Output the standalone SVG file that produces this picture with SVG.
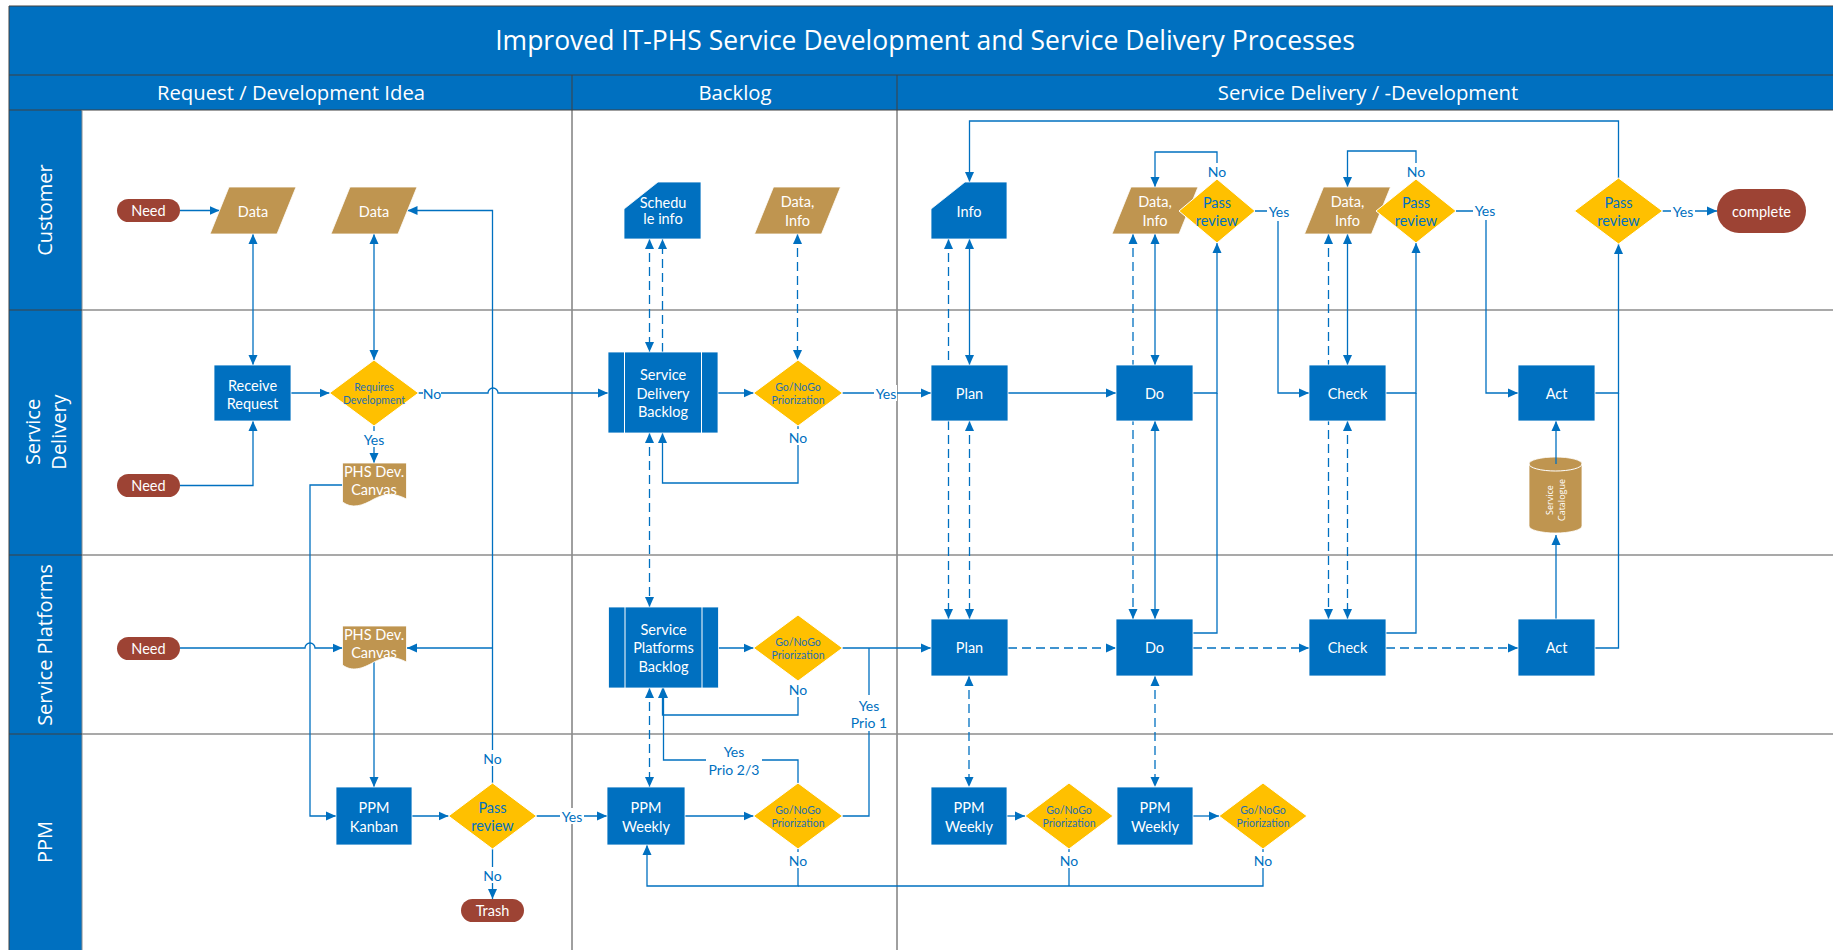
<svg xmlns="http://www.w3.org/2000/svg" width="1833" height="950" viewBox="0 0 1833 950">
<style>
.hd{font-family:"Open Sans","Liberation Sans",sans-serif;fill:#fff;text-anchor:middle;dominant-baseline:central}
.t{font-family:Lato,"Liberation Sans",sans-serif;fill:#fff;font-size:14.5px;text-anchor:middle;dominant-baseline:central}
.ts{font-size:10.5px}
.tq{fill:#0070C0}
.tg{fill:#1F6EB0}
.lb{font-family:Lato,"Liberation Sans",sans-serif;fill:#0070C0;font-size:14px;text-anchor:middle;dominant-baseline:central}
.box{fill:#0070C0;stroke:#fff;stroke-width:0.8}
.doc{fill:#BF9550;stroke:#fff;stroke-width:0.8}
.term{fill:#9D4334}
.dia{fill:#FFC000;stroke:#fff;stroke-width:1}
.inner{stroke:#fff;stroke-width:1}
.c{fill:none;stroke:#0070C0;stroke-width:1.3}
.d{stroke-dasharray:9 5}
.a{marker-end:url(#ah)}
.b{marker-start:url(#ah);marker-end:url(#ah)}
.bg{fill:#fff}
.lane{stroke:#8C8C8C;stroke-width:1.5}
.dark{stroke:#404040;stroke-width:1}
</style>
<defs>
<marker id="ah" markerUnits="userSpaceOnUse" markerWidth="10" markerHeight="10" refX="10" refY="5" orient="auto-start-reverse">
<path d="M0,0.5 L10,5 L0,9.5 z" fill="#0070C0"/>
</marker>
</defs>

<!-- swimlane frame -->
<g id="swimlanes">
<rect x="9" y="6" width="1824" height="944" fill="#fff"/>
<rect x="9" y="6" width="1824" height="104" fill="#0070C0"/>
<rect x="9" y="110" width="73" height="840" fill="#0070C0"/>
<line class="dark" x1="9" y1="75" x2="1833" y2="75"/>
<line class="dark" x1="9" y1="110" x2="1833" y2="110"/>
<line class="dark" x1="9" y1="6" x2="1833" y2="6"/>
<line class="dark" x1="9" y1="6" x2="9" y2="950"/>
<line class="dark" x1="572" y1="75" x2="572" y2="950"/>
<line class="dark" x1="897" y1="75" x2="897" y2="950"/>
<line x1="82" y1="110" x2="82" y2="950" stroke="#8C8C8C" stroke-width="1"/>
<line class="lane" x1="82" y1="310" x2="1833" y2="310"/>
<line class="lane" x1="82" y1="555" x2="1833" y2="555"/>
<line class="lane" x1="82" y1="734" x2="1833" y2="734"/>
<line class="dark" x1="9" y1="310" x2="82" y2="310"/>
<line class="dark" x1="9" y1="555" x2="82" y2="555"/>
<line class="dark" x1="9" y1="734" x2="82" y2="734"/>
<text class="hd" x="925" y="40" font-size="26.5">Improved IT-PHS Service Development and Service Delivery Processes</text>
<text class="hd" x="291" y="92" font-size="20.3">Request / Development Idea</text>
<text class="hd" x="735" y="92" font-size="20.3">Backlog</text>
<text class="hd" x="1368" y="92" font-size="20.3">Service Delivery / -Development</text>
<text class="hd" font-size="20" transform="translate(44,210) rotate(-90)">Customer</text>
<text class="hd" font-size="20" transform="translate(32,432) rotate(-90)">Service</text>
<text class="hd" font-size="20" transform="translate(58,432) rotate(-90)">Delivery</text>
<text class="hd" font-size="20" transform="translate(44,645) rotate(-90)">Service Platforms</text>
<text class="hd" font-size="20" transform="translate(44,842) rotate(-90)">PPM</text>
</g>

<!-- catalogue drawn before the connectors so its outgoing line shows on its top face -->
<g id="service-catalogue">
<path class="doc" d="M1529,464 A26.5,7 0 0 1 1582,464 V526 A26.5,7 0 0 1 1529,526 Z"/>
<path d="M1529,464 A26.5,7 0 0 0 1582,464" fill="none" stroke="#fff" stroke-width="1"/>
<text class="hd" font-size="9" transform="translate(1549,500) rotate(-90)">Service</text>
<text class="hd" font-size="9" transform="translate(1561.5,500) rotate(-90)">Catalogue</text>
</g>

<g id="connectors">
<!-- request / development idea -->
<path class="c a" d="M180,210.5 H219.5"/>
<path class="c b" d="M253,234 V365"/>
<path class="c b" d="M374,234 V360"/>
<path class="c a" d="M291,393 H329.5"/>
<path class="c a" d="M418.5,393 H488 A5,5 0 0 1 498,393 H608"/>
<path class="c a" d="M374,426 V463"/>
<path class="c a" d="M180,485.5 H253 V421"/>
<path class="c a" d="M342.5,485 H310 V816 H336"/>
<path class="c a" d="M180,648 H305 A5,5 0 0 1 315,648 H342.5"/>
<path class="c a" d="M374,662 V787"/>
<path class="c a" d="M412,816 H448.5"/>
<path class="c a" d="M492.5,783 V210.5 H407.5"/>
<path class="c a" d="M492.5,648 H407"/>
<path class="c a" d="M492.5,849 V899"/>
<path class="c a" d="M536.5,816 H607"/>
<!-- backlog -->
<path class="c a" d="M685,816 H753.5"/>
<path class="c" d="M842.5,816 H869 V648"/>
<path class="c a" d="M798,783 V760 H663.5 V688"/>
<path class="c a" d="M798,849 V886 H647 V845"/>
<path class="c" d="M1069,849 V886"/>
<path class="c" d="M1263,849 V886 H798"/>
<path class="c a" d="M718,393 H753.5"/>
<path class="c a" d="M842.5,393 H931"/>
<path class="c a" d="M798,426 V483 H662.5 V433"/>
<path class="c d b" d="M649.5,239 V352"/>
<path class="c d a" d="M662.5,352 V239"/>
<path class="c d b" d="M797.5,234 V360"/>
<path class="c d b" d="M649.5,433 V607"/>
<path class="c a" d="M718,648 H753.5"/>
<path class="c a" d="M798,681 V715 H662.5 V688"/>
<path class="c a" d="M842.5,648 H931"/>
<path class="c d b" d="M649.5,688 V787"/>
<!-- service delivery / development -->
<path class="c a" d="M1008,393 H1116"/>
<path class="c b" d="M969.5,239 V365"/>
<path class="c d b" d="M948.5,239 V619"/>
<path class="c d b" d="M969.5,421 V619"/>
<path class="c b" d="M1155,234 V365"/>
<path class="c d b" d="M1133,234 V619"/>
<path class="c b" d="M1155,421 V619"/>
<path class="c a" d="M1193,393 H1217 V243"/>
<path class="c" d="M1193,633 H1217 V393"/>
<path class="c a" d="M1217,179 V152 H1155 V187"/>
<path class="c a" d="M1255,211 H1278 V393 H1309"/>
<path class="c b" d="M1347.5,234 V365"/>
<path class="c d b" d="M1328.5,234 V619"/>
<path class="c d b" d="M1347.5,421 V619"/>
<path class="c a" d="M1386,393 H1416 V243"/>
<path class="c" d="M1386,633 H1416 V393"/>
<path class="c a" d="M1416,179 V151 H1347.5 V187"/>
<path class="c a" d="M1456,211 H1486 V393 H1518"/>
<path class="c a" d="M1595,393 H1618.5 V244"/>
<path class="c" d="M1595,648 H1618.5 V393"/>
<path class="c a" d="M1618.5,178 V121 H969.5 V182"/>
<path class="c a" d="M1662.5,211 H1717"/>
<path class="c d a" d="M1008,648 H1116"/>
<path class="c d a" d="M1193,648 H1309"/>
<path class="c d a" d="M1386,648 H1518"/>
<path class="c a" d="M1556,619 V535"/>
<path class="c a" d="M1556,464 V421"/>
<path class="c d b" d="M969,676 V787"/>
<path class="c d b" d="M1155,676 V787"/>
<path class="c a" d="M1007,816 H1025"/>
<path class="c a" d="M1193,816 H1219"/>
<!-- connector labels -->
<rect class="bg" x="423" y="385" width="18" height="16"/><text class="lb" x="432" y="393">No</text>
<rect class="bg" x="362" y="431" width="24" height="16"/><text class="lb" x="374" y="439">Yes</text>
<rect class="bg" x="483" y="750" width="19" height="16"/><text class="lb" x="492.5" y="758">No</text>
<rect class="bg" x="483" y="867" width="19" height="16"/><text class="lb" x="492.5" y="875">No</text>
<rect class="bg" x="560" y="808" width="24" height="16"/><text class="lb" x="572" y="816">Yes</text>
<rect class="bg" x="848" y="695" width="42" height="36"/><text class="lb" x="869" y="705">Yes</text><text class="lb" x="869" y="722">Prio 1</text>
<rect class="bg" x="706" y="741" width="56" height="37"/><text class="lb" x="734" y="751">Yes</text><text class="lb" x="734" y="769">Prio 2/3</text>
<rect class="bg" x="789" y="852" width="19" height="16"/><text class="lb" x="798" y="860">No</text>
<rect class="bg" x="1060" y="852" width="19" height="16"/><text class="lb" x="1069" y="860">No</text>
<rect class="bg" x="1254" y="852" width="19" height="16"/><text class="lb" x="1263" y="860">No</text>
<rect class="bg" x="874" y="385" width="23" height="16"/><text class="lb" x="886" y="393">Yes</text>
<rect class="bg" x="789" y="429" width="19" height="16"/><text class="lb" x="798" y="437">No</text>
<rect class="bg" x="789" y="681" width="19" height="16"/><text class="lb" x="798" y="689">No</text>
<rect class="bg" x="1208" y="163" width="19" height="16"/><text class="lb" x="1217" y="171">No</text>
<rect class="bg" x="1407" y="163" width="19" height="16"/><text class="lb" x="1416" y="171">No</text>
<rect class="bg" x="1267" y="203" width="24" height="18"/><text class="lb" x="1279" y="211">Yes</text>
<rect class="bg" x="1473" y="202" width="24" height="18"/><text class="lb" x="1485" y="210">Yes</text>
<rect class="bg" x="1671" y="203" width="24" height="16"/><text class="lb" x="1683" y="211">Yes</text>
</g>

<!-- customer lane -->
<g id="need-customer"><rect class="term" x="117" y="199" width="63" height="23" rx="11.5"/><text class="t" x="148.5" y="210.5">Need</text></g>
<g id="data-request"><polygon class="doc" points="229,187 296,187 277,234 210,234"/><text class="t" x="253" y="211">Data</text></g>
<g id="data-development"><polygon class="doc" points="350,187 417,187 398,234 331,234"/><text class="t" x="374" y="211">Data</text></g>
<g id="schedule-info"><path class="box" d="M624,209 L658,182 H701 V239 H624 Z"/><text class="t" font-size="10" x="663" y="202.5">Schedu</text><text class="t" font-size="10" x="663" y="218">le info</text></g>
<g id="data-info-backlog"><polygon class="doc" points="773.5,187 840.5,187 821.5,234 754.5,234"/><text class="t" x="797.5" y="201">Data,</text><text class="t" x="797.5" y="220">Info</text></g>
<g id="info"><path class="box" d="M931,209 L965,182 H1007 V239 H931 Z"/><text class="t" x="969" y="211">Info</text></g>
<g id="data-info-do"><polygon class="doc" points="1131,187 1198,187 1179,234 1112,234"/><text class="t" x="1155" y="201">Data,</text><text class="t" x="1155" y="220">Info</text></g>
<g id="pass-review-do"><polygon class="dia" points="1217,179 1255,211 1217,243 1179,211"/><text class="t tq" x="1217" y="202">Pass</text><text class="t tq" x="1217" y="220">review</text></g>
<g id="data-info-check"><polygon class="doc" points="1323.5,187 1390.5,187 1371.5,234 1304.5,234"/><text class="t" x="1347.5" y="201">Data,</text><text class="t" x="1347.5" y="220">Info</text></g>
<g id="pass-review-check"><polygon class="dia" points="1416,179 1456,211 1416,243 1376,211"/><text class="t tq" x="1416" y="202">Pass</text><text class="t tq" x="1416" y="220">review</text></g>
<g id="pass-review-act"><polygon class="dia" points="1618.5,178 1662.5,211 1618.5,244 1574.5,211"/><text class="t tq" x="1618.5" y="202">Pass</text><text class="t tq" x="1618.5" y="220">review</text></g>
<g id="complete"><rect class="term" x="1717" y="189" width="89" height="44" rx="22"/><text class="t" x="1761.5" y="211">complete</text></g>

<!-- service delivery lane -->
<g id="receive-request"><rect class="box" x="214" y="365" width="77" height="56"/><text class="t" x="252.5" y="385">Receive</text><text class="t" x="252.5" y="403">Request</text></g>
<g id="requires-development"><polygon class="dia" points="374,360 418.5,393 374,426 329.5,393"/><text class="t ts tg" x="374" y="387">Requires</text><text class="t ts tg" x="374" y="400">Development</text></g>
<g id="canvas-delivery"><path class="doc" d="M342.5,463 H406.5 V499 C393,492 384,494 374,499 C362,506 352,509 342.5,502 Z"/><text class="t" x="374" y="471">PHS Dev.</text><text class="t" x="374" y="489">Canvas</text></g>
<g id="need-delivery"><rect class="term" x="117" y="474" width="63" height="23" rx="11.5"/><text class="t" x="148.5" y="485.5">Need</text></g>
<g id="delivery-backlog"><rect class="box" x="608" y="352" width="110" height="81"/><line class="inner" x1="624.5" y1="352" x2="624.5" y2="433"/><line class="inner" x1="701.5" y1="352" x2="701.5" y2="433"/><text class="t" x="663" y="374">Service</text><text class="t" x="663" y="393">Delivery</text><text class="t" x="663" y="411">Backlog</text></g>
<g id="gonogo-delivery"><polygon class="dia" points="798,360 842.5,393 798,426 753.5,393"/><text class="t ts tg" x="798" y="387">Go/NoGo</text><text class="t ts tg" x="798" y="400">Priorization</text></g>
<g id="plan-delivery"><rect class="box" x="931" y="365" width="77" height="56"/><text class="t" x="969.5" y="393">Plan</text></g>
<g id="do-delivery"><rect class="box" x="1116" y="365" width="77" height="56"/><text class="t" x="1154.5" y="393">Do</text></g>
<g id="check-delivery"><rect class="box" x="1309" y="365" width="77" height="56"/><text class="t" x="1347.5" y="393">Check</text></g>
<g id="act-delivery"><rect class="box" x="1518" y="365" width="77" height="56"/><text class="t" x="1556.5" y="393">Act</text></g>

<!-- service platforms lane -->
<g id="need-platforms"><rect class="term" x="117" y="637" width="63" height="23" rx="11.5"/><text class="t" x="148.5" y="648.5">Need</text></g>
<g id="canvas-platforms"><path class="doc" d="M342.5,626 H406.5 V662 C393,655 384,657 374,662 C362,669 352,672 342.5,665 Z"/><text class="t" x="374" y="634">PHS Dev.</text><text class="t" x="374" y="652">Canvas</text></g>
<g id="platforms-backlog"><rect class="box" x="608.5" y="607" width="110" height="81"/><line class="inner" x1="625" y1="607" x2="625" y2="688"/><line class="inner" x1="702" y1="607" x2="702" y2="688"/><text class="t" x="663.5" y="629">Service</text><text class="t" x="663.5" y="647">Platforms</text><text class="t" x="663.5" y="666">Backlog</text></g>
<g id="gonogo-platforms"><polygon class="dia" points="798,615 842.5,648 798,681 753.5,648"/><text class="t ts tg" x="798" y="642">Go/NoGo</text><text class="t ts tg" x="798" y="655">Priorization</text></g>
<g id="plan-platforms"><rect class="box" x="931" y="619" width="77" height="57"/><text class="t" x="969.5" y="647.5">Plan</text></g>
<g id="do-platforms"><rect class="box" x="1116" y="619" width="77" height="57"/><text class="t" x="1154.5" y="647.5">Do</text></g>
<g id="check-platforms"><rect class="box" x="1309" y="619" width="77" height="57"/><text class="t" x="1347.5" y="647.5">Check</text></g>
<g id="act-platforms"><rect class="box" x="1518" y="619" width="77" height="57"/><text class="t" x="1556.5" y="647.5">Act</text></g>

<!-- PPM lane -->
<g id="ppm-kanban"><rect class="box" x="336" y="787" width="76" height="58"/><text class="t" x="374" y="807">PPM</text><text class="t" x="374" y="826">Kanban</text></g>
<g id="pass-review-ppm"><polygon class="dia" points="492.5,783 536.5,816 492.5,849 448.5,816"/><text class="t tq" x="492.5" y="807">Pass</text><text class="t tq" x="492.5" y="825">review</text></g>
<g id="trash"><rect class="term" x="461" y="899" width="63" height="23" rx="11.5"/><text class="t" x="492.5" y="910.5">Trash</text></g>
<g id="ppm-weekly-backlog"><rect class="box" x="607" y="787" width="78" height="58"/><text class="t" x="646" y="807">PPM</text><text class="t" x="646" y="826">Weekly</text></g>
<g id="gonogo-ppm-backlog"><polygon class="dia" points="798,783 842.5,816 798,849 753.5,816"/><text class="t ts tg" x="798" y="810">Go/NoGo</text><text class="t ts tg" x="798" y="823">Priorization</text></g>
<g id="ppm-weekly-plan"><rect class="box" x="931" y="787" width="76" height="58"/><text class="t" x="969" y="807">PPM</text><text class="t" x="969" y="826">Weekly</text></g>
<g id="gonogo-ppm-plan"><polygon class="dia" points="1069,783 1113,816 1069,849 1025,816"/><text class="t ts tg" x="1069" y="810">Go/NoGo</text><text class="t ts tg" x="1069" y="823">Priorization</text></g>
<g id="ppm-weekly-do"><rect class="box" x="1117" y="787" width="76" height="58"/><text class="t" x="1155" y="807">PPM</text><text class="t" x="1155" y="826">Weekly</text></g>
<g id="gonogo-ppm-do"><polygon class="dia" points="1263,783 1307,816 1263,849 1219,816"/><text class="t ts tg" x="1263" y="810">Go/NoGo</text><text class="t ts tg" x="1263" y="823">Priorization</text></g>
</svg>
